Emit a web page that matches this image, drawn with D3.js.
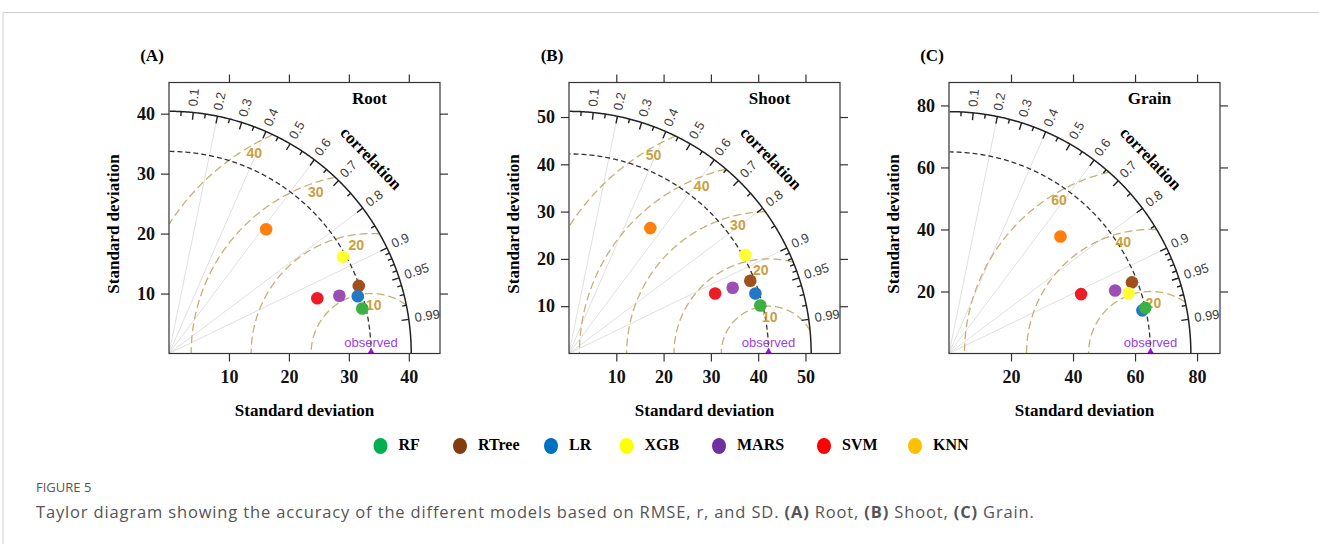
<!DOCTYPE html>
<html>
<head>
<meta charset="utf-8">
<script src="https://cdn.jsdelivr.net/npm/d3@7"></script>
<style>
  body { margin: 0; background: #fff; }
  .serifb { font-family: "Liberation Serif", "Times New Roman", serif; font-weight: bold; }
  .sans { font-family: "Liberation Sans", Arial, sans-serif; }
</style>
</head>
<body>
<svg id="fig"></svg>
<script>
// models and colours
var models = ["RF", "RTree", "LR", "XGB", "MARS", "SVM", "KNN"];
var legendColors = ["#00b050", "#843c0c", "#0070c0", "#ffff00", "#7030a0", "#ff0000", "#ffc000"];
var pointColors = ["#3cb043", "#a0501e", "#2378c3", "#ffff33", "#9b4fb5", "#ee1c25", "#ff7f0e"];
var drawOrder = [1, 3, 4, 5, 6, 2, 0];

// panels
var panelNames = ["Root", "Shoot", "Grain"];
var panelTags = ["(A)", "(B)", "(C)"];
var refSD = [33.7, 42.2, 65.0];
var maxSD = [40.4, 51.2, 78.0];
var axisMax = [45.2, 57.3, 87.4];
var sdTicks = [[10, 20, 30, 40], [10, 20, 30, 40, 50], [20, 40, 60, 80]];
var rmseLevels = [[10, 20, 30, 40], [10, 20, 30, 40, 50], [20, 40, 60]];

// standard deviation and correlation of each model (order of models)
var rootSD = [33.1, 33.6, 32.9, 33.2, 30.0, 26.4, 26.3];
var rootR = [0.974, 0.942, 0.957, 0.874, 0.947, 0.937, 0.616];
var shootSD = [41.7, 41.3, 41.4, 42.7, 37.3, 33.4, 31.6];
var shootR = [0.970, 0.928, 0.952, 0.873, 0.928, 0.925, 0.544];
var grainSD = [65.0, 63.3, 63.9, 61.1, 57.3, 46.7, 52.1];
var grainR = [0.974, 0.932, 0.976, 0.948, 0.935, 0.912, 0.690];

// correlation grid
var corrTicks = [0.1, 0.2, 0.3, 0.4, 0.5, 0.6, 0.7, 0.8, 0.9, 0.95, 0.99];
var corrMinor = [0.05, 0.15, 0.25, 0.35, 0.45, 0.55, 0.65, 0.75, 0.85, 0.91, 0.92, 0.93, 0.94, 0.96, 0.97, 0.98];
var corrLines = [0.2, 0.4, 0.6, 0.8, 0.9];

var panelData = [[rootSD, rootR], [shootSD, shootR], [grainSD, grainR]];

var dimensions = {
    width: 1319,
    height: 544,
    boxLeft: [169, 569, 949],
    boxTop: 82.5,
    boxSize: 271
};

var legendX = [380.5, 460, 551, 626.5, 719, 824, 915];

var svg = d3.select("#fig")
    .attr("width", dimensions.width)
    .attr("height", dimensions.height);

// page frame
svg.append("path")
    .attr("d", "M3,544V12.5H1319")
    .attr("fill", "none")
    .attr("stroke", "#cfcfcf");

var line = d3.line();

panelNames.forEach(function (name, i) {
    var left = dimensions.boxLeft[i];
    var top = dimensions.boxTop;
    var size = dimensions.boxSize;

    var xScale = d3.scaleLinear().domain([0, axisMax[i]]).range([left, left + size]);
    var yScale = d3.scaleLinear().domain([0, axisMax[i]]).range([top + size, top]);
    var pt = function (sx, sy) { return [xScale(sx), yScale(sy)]; };

    var g = svg.append("g");

    g.append("clipPath").attr("id", "clip" + i)
        .append("rect")
        .attr("x", left).attr("y", top)
        .attr("width", size).attr("height", size);

    var plot = g.append("g").attr("clip-path", "url(#clip" + i + ")");

    // radial correlation lines
    corrLines.forEach(function (r) {
        plot.append("line")
            .attr("x1", xScale(0)).attr("y1", yScale(0))
            .attr("x2", xScale(maxSD[i] * r))
            .attr("y2", yScale(maxSD[i] * Math.sqrt(1 - r * r)))
            .attr("stroke", "#e0e0e0")
            .attr("stroke-width", 1);
    });

    // centred RMS difference arcs
    var levels = rmseLevels[i];
    var labelAngle = d3.scaleLinear().domain([0, levels.length - 1]).range([1.46, 2.06]);
    levels.forEach(function (gam, k) {
        var pts = d3.range(0, Math.PI + 0.001, 0.004)
            .map(function (t) { return [refSD[i] + gam * Math.cos(t), gam * Math.sin(t)]; })
            .filter(function (p) { return p[0] >= 0 && p[0] * p[0] + p[1] * p[1] <= maxSD[i] * maxSD[i]; })
            .map(function (p) { return pt(p[0], p[1]); });
        plot.append("path")
            .attr("d", line(pts))
            .attr("fill", "none")
            .attr("stroke", "#c4b078")
            .attr("stroke-width", 1.3)
            .attr("stroke-dasharray", "8,4");

        var a = labelAngle(k);
        var lp = pt(refSD[i] + gam * Math.cos(a), gam * Math.sin(a));
        g.append("text")
            .attr("class", "sans")
            .attr("x", lp[0] - 4)
            .attr("y", lp[1] + 12)
            .attr("text-anchor", "middle")
            .attr("dominant-baseline", "middle")
            .attr("font-size", 14)
            .attr("font-weight", "bold")
            .attr("fill", "#cba040")
            .text(gam);
    });

    // reference sd arc
    var refPts = d3.range(0, Math.PI / 2 + 0.001, 0.004)
        .map(function (t) { return pt(refSD[i] * Math.cos(t), refSD[i] * Math.sin(t)); });
    plot.append("path")
        .attr("d", line(refPts))
        .attr("fill", "none")
        .attr("stroke", "#333")
        .attr("stroke-width", 1.3)
        .attr("stroke-dasharray", "5,3");

    // outer correlation arc
    var maxPts = d3.range(0, Math.PI / 2 + 0.001, 0.004)
        .map(function (t) { return pt(maxSD[i] * Math.cos(t), maxSD[i] * Math.sin(t)); });
    g.append("path")
        .attr("d", line(maxPts))
        .attr("fill", "none")
        .attr("stroke", "#222")
        .attr("stroke-width", 1.5);

    // ticks on the arc
    function arcTick(r, inner) {
        var s = Math.sqrt(1 - r * r);
        var p1 = pt(maxSD[i] * r, maxSD[i] * s);
        var p2 = pt(maxSD[i] * inner * r, maxSD[i] * inner * s);
        g.append("line")
            .attr("x1", p1[0]).attr("y1", p1[1])
            .attr("x2", p2[0]).attr("y2", p2[1])
            .attr("stroke", "#222")
            .attr("stroke-width", 1.4);
    }
    corrTicks.forEach(function (r) { arcTick(r, 0.97); });
    corrMinor.forEach(function (r) { arcTick(r, 0.982); });

    // correlation labels
    corrTicks.forEach(function (r) {
        var ang = Math.acos(r);
        var p = pt(maxSD[i] * 1.025 * r, maxSD[i] * 1.025 * Math.sin(ang));
        g.append("text")
            .attr("class", "sans")
            .attr("transform", "translate(" + p[0] + "," + p[1] + ") rotate(" + (-ang * 180 / Math.PI) + ")")
            .attr("text-anchor", "start")
            .attr("dominant-baseline", "middle")
            .attr("font-size", 13)
            .attr("fill", "#404040")
            .text(r);
    });

    var cp = pt(maxSD[i] * 1.153 * Math.cos(44 * Math.PI / 180), maxSD[i] * 1.153 * Math.sin(44 * Math.PI / 180));
    g.append("text")
        .attr("class", "serifb")
        .attr("transform", "translate(" + cp[0] + "," + cp[1] + ") rotate(46)")
        .attr("text-anchor", "middle")
        .attr("dominant-baseline", "middle")
        .attr("font-size", 17)
        .text("correlation");

    // panel name inside
    g.append("text")
        .attr("class", "serifb")
        .attr("x", xScale(axisMax[i] * 0.74))
        .attr("y", yScale(axisMax[i] * 0.934))
        .attr("text-anchor", "middle")
        .attr("dominant-baseline", "middle")
        .attr("font-size", 17)
        .text(name);

    // observed point
    g.append("text")
        .attr("class", "sans")
        .attr("x", xScale(refSD[i]))
        .attr("y", yScale(0) - 9.5)
        .attr("text-anchor", "middle")
        .attr("dominant-baseline", "middle")
        .attr("font-size", 13)
        .attr("fill", "#a040e0")
        .text("observed");
    plot.append("path")
        .attr("d", d3.symbol().type(d3.symbolTriangle).size(60)())
        .attr("transform", "translate(" + xScale(refSD[i]) + "," + (yScale(0) + 1) + ")")
        .attr("fill", "#9a10d8");

    // model points
    var sds = panelData[i][0], rs = panelData[i][1];
    drawOrder.forEach(function (m) {
        var p = pt(sds[m] * rs[m], sds[m] * Math.sqrt(1 - rs[m] * rs[m]));
        g.append("circle")
            .attr("cx", p[0]).attr("cy", p[1])
            .attr("r", 6.3)
            .attr("fill", pointColors[m]);
    });

    // axes
    g.append("g")
        .attr("transform", "translate(0," + (top + size) + ")")
        .call(d3.axisBottom(xScale).tickValues(sdTicks[i]).tickSize(8).tickPadding(9));
    g.append("g")
        .attr("transform", "translate(" + left + ",0)")
        .call(d3.axisLeft(yScale).tickValues(sdTicks[i]).tickSize(8).tickPadding(6));
    g.append("g")
        .attr("transform", "translate(0," + top + ")")
        .call(d3.axisTop(xScale).tickValues(sdTicks[i]).tickSize(8).tickFormat(""));
    g.append("g")
        .attr("transform", "translate(" + (left + size) + ",0)")
        .call(d3.axisRight(yScale).tickValues(sdTicks[i]).tickSize(8).tickFormat(""));

    g.selectAll(".domain").remove();
    g.selectAll(".tick line").attr("stroke", "#333").attr("stroke-width", 1.2);
    g.selectAll(".tick text")
        .attr("class", "serifb")
        .attr("font-size", 18)
        .attr("fill", "#111");

    g.append("rect")
        .attr("x", left).attr("y", top)
        .attr("width", size).attr("height", size)
        .attr("fill", "none")
        .attr("stroke", "#333")
        .attr("stroke-width", 1.2);

    // axis titles
    g.append("text")
        .attr("class", "serifb")
        .attr("x", left + size / 2)
        .attr("y", 416)
        .attr("text-anchor", "middle")
        .attr("font-size", 17)
        .text("Standard deviation");
    g.append("text")
        .attr("class", "serifb")
        .attr("transform", "translate(" + (left - 50) + "," + 224 + ") rotate(-90)")
        .attr("text-anchor", "middle")
        .attr("font-size", 17)
        .text("Standard deviation");

    g.append("text")
        .attr("class", "serifb")
        .attr("x", left - 17)
        .attr("y", 61)
        .attr("text-anchor", "middle")
        .attr("font-size", 17)
        .text(panelTags[i]);
});

// legend
var legend = svg.append("g");
models.forEach(function (m, k) {
    legend.append("ellipse")
        .attr("cx", legendX[k]).attr("cy", 446)
        .attr("rx", 7).attr("ry", 8)
        .attr("fill", legendColors[k]);
    legend.append("text")
        .attr("class", "serifb")
        .attr("x", legendX[k] + 18)
        .attr("y", 446)
        .attr("dominant-baseline", "middle")
        .attr("font-size", 16)
        .text(m);
});

// caption
svg.append("text")
    .attr("x", 36).attr("y", 492)
    .attr("font-family", "'Open Sans', sans-serif")
    .attr("font-size", 13)
    .attr("fill", "#555")
    .text("FIGURE 5");

var cap = svg.append("text")
    .attr("x", 36).attr("y", 518)
    .attr("font-family", "'Open Sans', sans-serif")
    .attr("font-size", 16.5)
    .attr("letter-spacing", 0.85)
    .attr("fill", "#555");
cap.append("tspan").text("Taylor diagram showing the accuracy of the different models based on RMSE, r, and SD. ");
cap.append("tspan").attr("font-weight", "bold").text("(A)");
cap.append("tspan").text(" Root, ");
cap.append("tspan").attr("font-weight", "bold").text("(B)");
cap.append("tspan").text(" Shoot, ");
cap.append("tspan").attr("font-weight", "bold").text("(C)");
cap.append("tspan").text(" Grain.");
</script>
</body>
</html>
